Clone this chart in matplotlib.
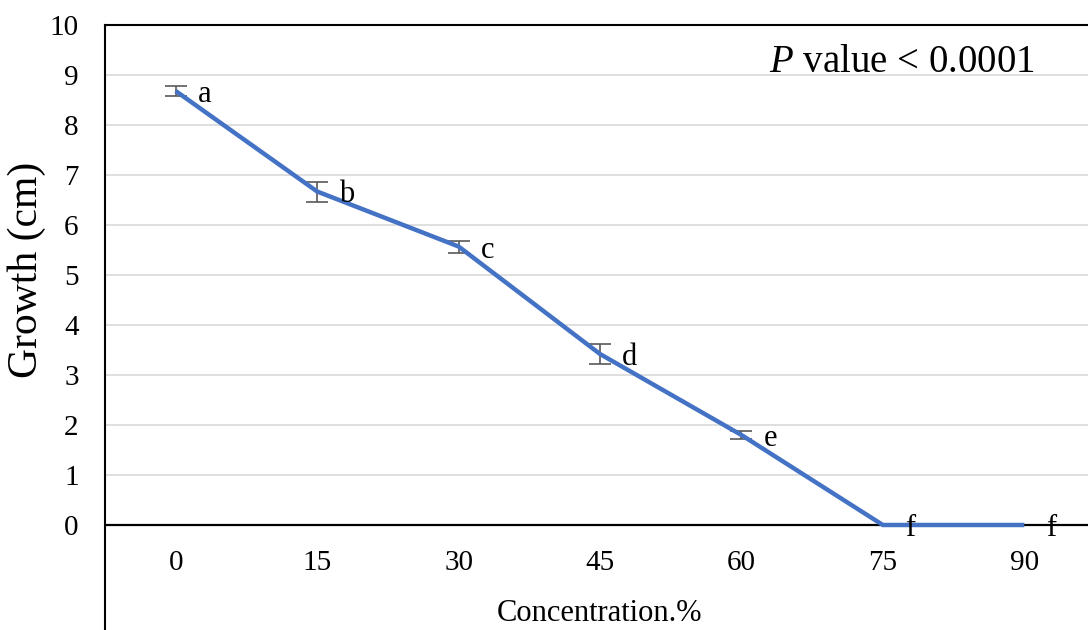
import matplotlib
matplotlib.use('Agg')
import matplotlib.pyplot as plt

concentrations = ['0', '15', '30', '45', '60', '75', '90']
growth = [8.68, 6.67, 5.57, 3.42, 1.80, 0.0, 0.0]
errors = [0.10, 0.20, 0.12, 0.20, 0.08, 0.0, 0.0]
letters = ['a', 'b', 'c', 'd', 'e', 'f', 'f']
yticks = list(range(0, 11))

plt.rcParams['font.family'] = ['Liberation Serif', 'DejaVu Serif']
plt.rcParams['mathtext.fontset'] = 'custom'
plt.rcParams['mathtext.it'] = 'Liberation Serif:italic'
plt.rcParams['mathtext.rm'] = 'Liberation Serif'

W, H = 1088, 630
fig = plt.figure(figsize=(W / 100, H / 100), dpi=100)
left, right, top, bottom = 105, 1095, 25, 640
ax = fig.add_axes([left / W, 1 - bottom / H, (right - left) / W, (bottom - top) / H])
zero_px = 525
ppu = (zero_px - top) / 10.0
ax.set_ylim(-(bottom - zero_px) / ppu, 10)
ax.set_xlim(-0.5, len(concentrations) - 0.5)

x = list(range(len(concentrations)))

ax.set_yticks(yticks)
ax.set_yticklabels([str(t) for t in yticks])
ax.yaxis.grid(True, color='#d9d9d9', lw=1.2)
ax.set_axisbelow(True)
ax.tick_params(axis='y', length=0, pad=19, labelsize=21)
ax.set_xticks([])

for s in ['left', 'top']:
    ax.spines[s].set_linewidth(1.5)
    ax.spines[s].set_color('black')
ax.spines['right'].set_visible(False)
ax.spines['bottom'].set_visible(False)

ax.axhline(0, color='black', lw=1.6, zorder=2)

ax.errorbar(x[:5], growth[:5], yerr=errors[:5], fmt='none', ecolor='#595959',
            elinewidth=1.2, capsize=8, capthick=1.2, zorder=3)
ax.plot(x, growth, color='#4472C4', lw=3.2, solid_capstyle='butt',
        solid_joinstyle='miter', zorder=4)

for xi, yi, lab in zip(x, growth, letters):
    ax.annotate(lab, (xi, yi), xytext=(16, 0), textcoords='offset points',
                ha='left', va='center_baseline', fontsize=22, zorder=5)

for xi, lab in zip(x, concentrations):
    ax.text(xi, -0.75, lab, ha='center', va='center', fontsize=21)

fig.text(600 / W, 1 - 621 / H, 'Concentration.%', ha='center',
         va='baseline', fontsize=22)

fig.text(27 / W, 1 - 270 / H, 'Growth (cm)', rotation=90, ha='center',
         va='center', fontsize=30)

fig.text(1035 / W, 1 - 72 / H, r'$P$ value < 0.0001', ha='right',
         va='baseline', fontsize=28)

fig.savefig('out.png', dpi=100)
